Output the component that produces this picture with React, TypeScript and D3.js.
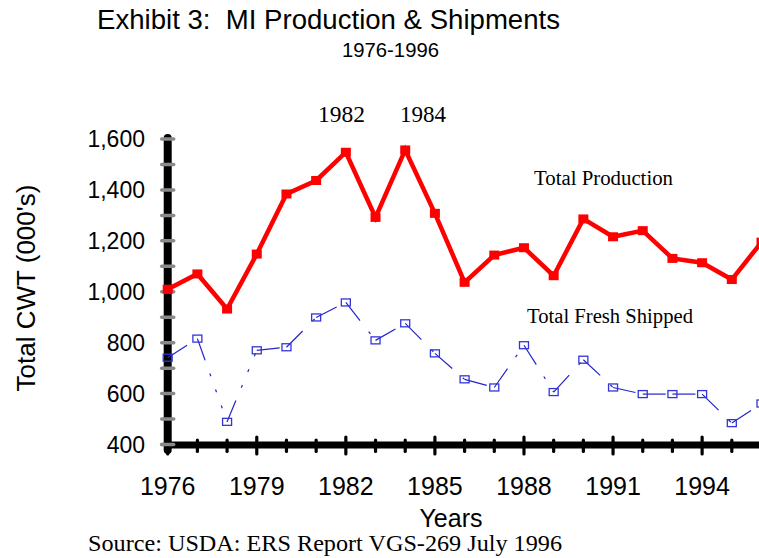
import React from "react";
import * as d3 from "d3";

const years = [1976, 1977, 1978, 1979, 1980, 1981, 1982, 1983, 1984, 1985, 1986, 1987, 1988, 1989, 1990, 1991, 1992, 1993, 1994, 1995, 1996];
const production = [1010, 1070, 932, 1148, 1384, 1437, 1548, 1292, 1557, 1308, 1037, 1144, 1173, 1063, 1286, 1216, 1240, 1131, 1114, 1048, 1195];
const shipped = [741, 816, 489, 770, 782, 899, 958, 809, 876, 758, 656, 624, 790, 606, 733, 624, 598, 598, 598, 484, 561];
const yTickValues = [400, 600, 800, 1000, 1200, 1400, 1600];
const yMinorValues = [400, 500, 600, 700, 800, 900, 1000, 1100, 1200, 1300, 1400, 1500, 1600];
const xLabelYears = [1976, 1979, 1982, 1985, 1988, 1991, 1994];

const SANS = "'Liberation Sans', Arial, sans-serif";
const SERIF = "'Liberation Serif', 'Times New Roman', serif";

export default function App() {
  const W = 759, H = 558;
  const x = d3.scaleLinear().domain([1976, 1996]).range([167.7, 761.5]);
  const y = d3.scaleLinear().domain([400, 1600]).range([444.5, 139]);
  const fmt = d3.format(",");
  const prodLine = d3.line<number>().x((_, i) => x(years[i])).y((v) => y(v));
  const x0 = x(1976);
  const axisY = 445;

  return (
    <svg width={W} height={H} style={{ position: "absolute", left: 0, top: 0, background: "#fff" }}>
      <rect x={0} y={0} width={W} height={H} fill="#fff" />
      {/* Titles */}
      <text x={97} y={29} fontFamily={SANS} fontSize={27.5} textLength={463} lengthAdjust="spacingAndGlyphs" style={{ whiteSpace: "pre" }} fill="#000">
        Exhibit 3:  MI Production &amp; Shipments
      </text>
      <text x={342} y={57} fontFamily={SANS} fontSize={20} textLength={97} lengthAdjust="spacingAndGlyphs" fill="#000">
        1976-1996
      </text>

      {/* Y axis */}
      <line x1={x0} x2={x0} y1={138} y2={450} stroke="#000" strokeWidth={8} strokeLinecap="round" />
      {yMinorValues.map((v) => (
        <line key={"ym" + v} x1={x0 - 6} x2={x0 + 6} y1={y(v)} y2={y(v)} stroke="#8a8a8a" strokeWidth={3.5} strokeLinecap="round" />
      ))}
      {yTickValues.map((v) => (
        <text key={"yl" + v} x={145} y={y(v)} dy="0.36em" textAnchor="end" fontFamily={SANS} fontSize={23} fill="#000">
          {fmt(v)}
        </text>
      ))}
      <text transform={`translate(35,288) rotate(-90)`} textAnchor="middle" fontFamily={SANS} fontSize={26} fill="#000">
        Total CWT (000's)
      </text>

      {/* X axis */}
      <line x1={164} x2={W + 5} y1={axisY} y2={axisY} stroke="#000" strokeWidth={7} />
      {years.map((yr) => {
        const major = xLabelYears.includes(yr);
        return (
          <line key={"xt" + yr} x1={x(yr)} x2={x(yr)} y1={major ? 437 : 440} y2={major ? 454 : 451.5} stroke="#000" strokeWidth={3.2} strokeLinecap="round" />
        );
      })}
      {yMinorValues.slice(0, 1).map((v) => (
        <line key="ybot" x1={x0 - 6} x2={x0 + 6} y1={y(v)} y2={y(v)} stroke="#8a8a8a" strokeWidth={3.5} strokeLinecap="round" />
      ))}
      {xLabelYears.map((yr) => (
        <text key={"xl" + yr} x={x(yr)} y={495} textAnchor="middle" fontFamily={SANS} fontSize={25} fill="#000">
          {yr}
        </text>
      ))}
      <text x={451} y={527} textAnchor="middle" fontFamily={SANS} fontSize={25} fill="#000">
        Years
      </text>
      <text x={88} y={551} fontFamily={SERIF} fontSize={24} textLength={474} lengthAdjust="spacingAndGlyphs" fill="#000">
        Source: USDA: ERS Report VGS-269 July 1996
      </text>

      {/* Shipped series: per-segment dashed */}
      {shipped.slice(1).map((v, i) => (
        <line key={"ss" + i} x1={x(years[i])} y1={y(shipped[i])} x2={x(years[i + 1])} y2={y(v)} stroke="#2424c8" strokeWidth={1.2} strokeDasharray="23,14,3,14,3,14,3,14" />
      ))}
      {shipped.map((v, i) => (
        <rect key={"sm" + i} x={x(years[i]) - 4.5} y={y(v) - 3.5} width={9} height={7} fill="none" stroke="#3434d8" strokeWidth={1.3} />
      ))}

      {/* Production series */}
      <path d={prodLine(production) || ""} fill="none" stroke="#ff0000" strokeWidth={4.5} strokeLinejoin="miter" />
      {production.map((v, i) => (
        <rect key={"pm" + i} x={x(years[i]) - 5} y={y(v) - 4.5} width={10} height={9} fill="#ff0000" />
      ))}

      {/* Annotations */}
      <text x={318} y={122} fontFamily={SERIF} fontSize={24} textLength={47} lengthAdjust="spacingAndGlyphs" fill="#000">1982</text>
      <text x={400} y={122} fontFamily={SERIF} fontSize={24} textLength={46} lengthAdjust="spacingAndGlyphs" fill="#000">1984</text>
      <text x={534} y={185} fontFamily={SERIF} fontSize={20.5} textLength={139} lengthAdjust="spacingAndGlyphs" fill="#000">Total Production</text>
      <text x={527} y={323} fontFamily={SERIF} fontSize={20.5} textLength={166} lengthAdjust="spacingAndGlyphs" fill="#000">Total Fresh Shipped</text>
    </svg>
  );
}
